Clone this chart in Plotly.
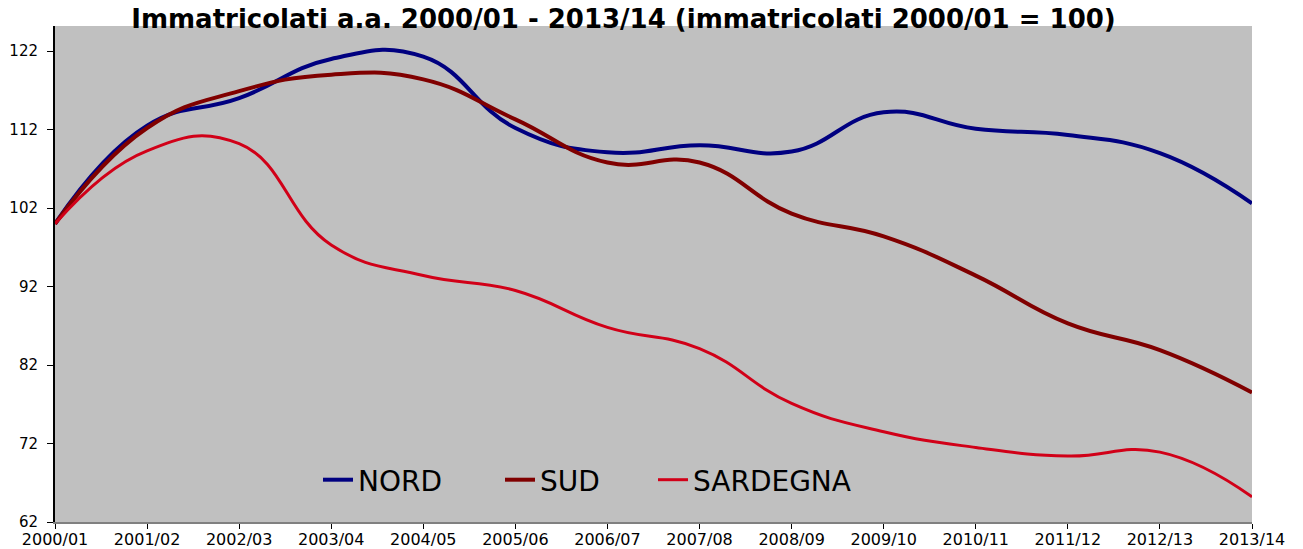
import plotly.graph_objects as go

categories = ["2000/01", "2001/02", "2002/03", "2003/04", "2004/05", "2005/06", "2006/07",
              "2007/08", "2008/09", "2009/10", "2010/11", "2011/12", "2012/13", "2013/14"]
nord = [100, 112.5, 116.0, 121.0, 121.3, 112.2, 109.1, 110.0, 109.2, 114.2, 112.1, 111.3, 109.0, 102.6]
sud = [100, 112.2, 116.9, 119.0, 118.4, 113.3, 107.8, 107.8, 101.3, 98.4, 93.4, 87.3, 83.9, 78.5]
sardegna = [100, 109.3, 110.2, 97.3, 93.4, 91.5, 86.8, 84.1, 77.1, 73.5, 71.5, 70.4, 70.9, 65.2]
y_ticks = [62, 72, 82, 92, 102, 112, 122]

W, H = 1303, 549
L, R, T, B = 55, 51, 26, 27
pw, ph = W - L - R, H - T - B


def px_x(px):
    return (px - L) / pw


def px_y(py):
    return (H - B - py) / ph


fig = go.Figure()
series = [
    ("NORD", nord, "#000080", 4, "legend", 318),
    ("SUD", sud, "#800000", 4, "legend2", 500),
    ("SARDEGNA", sardegna, "#D10018", 3, "legend3", 653),
]
for name, vals, col, w, lg, _ in series:
    fig.add_trace(go.Scatter(
        x=categories, y=vals, name=name, mode="lines",
        line=dict(color=col, width=w, shape="spline", smoothing=1.3),
        legend=lg,
    ))

leg_common = dict(
    orientation="h", yanchor="middle", xanchor="left",
    bgcolor="rgba(0,0,0,0)", borderwidth=0,
    font=dict(family="DejaVu Sans", size=28, color="black"),
)
layout_legends = {}
for name, vals, col, w, lg, xpx in series:
    layout_legends[lg] = dict(leg_common, x=px_x(xpx), y=px_y(480))

fig.update_layout(
    width=W, height=H,
    margin=dict(l=L, r=R, t=T, b=B, pad=0),
    paper_bgcolor="white",
    plot_bgcolor="#C0C0C0",
    showlegend=True,
    title=dict(
        text="<b>Immatricolati a.a. 2000/01 - 2013/14 (immatricolati 2000/01 = 100)</b>",
        font=dict(family="DejaVu Sans", size=26, color="black"),
        x=623.5 / W, xanchor="center", xref="container",
        y=1 - 28 / H, yanchor="bottom", yref="container",
    ),
    xaxis=dict(
        type="category", range=[0, len(categories) - 1],
        tickmode="array", tickvals=categories, ticktext=categories,
        showgrid=False, zeroline=False,
        showline=True, linecolor="#808080", linewidth=2,
        ticks="outside", ticklen=5, tickcolor="black", tickwidth=1,
        ticklabelstandoff=-3,
        tickfont=dict(family="DejaVu Sans", size=16, color="black"),
        automargin=False,
    ),
    yaxis=dict(
        range=[62, 125.2], tickmode="array", tickvals=y_ticks,
        showgrid=False, zeroline=False,
        showline=True, linecolor="black", linewidth=2,
        ticks="outside", ticklen=6, tickcolor="black", tickwidth=1,
        ticklabelstandoff=6,
        tickfont=dict(family="DejaVu Sans", size=15, color="black"),
        automargin=False,
    ),
    **layout_legends,
)

fig.write_html(
    "out.html",
    config={"displayModeBar": False},
    post_script="document.body.style.margin='0';document.body.style.padding='0';",
)
